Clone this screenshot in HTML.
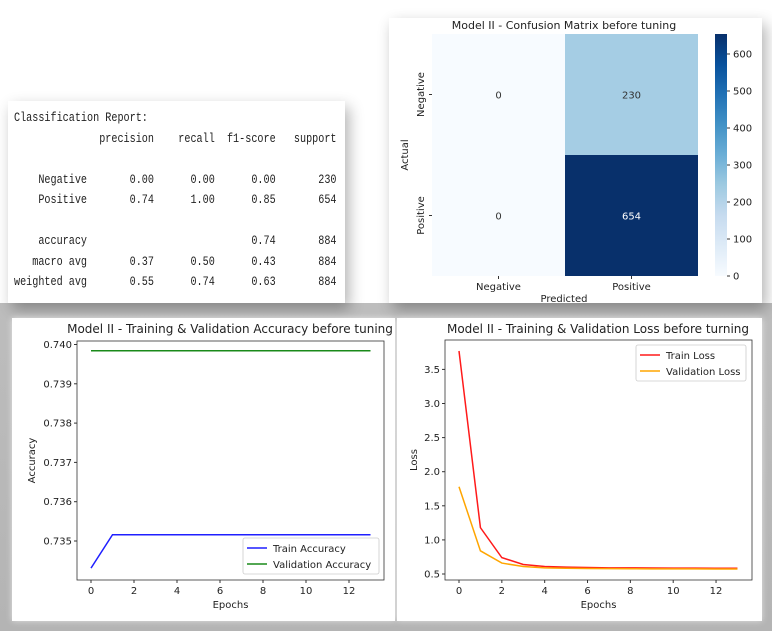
<!DOCTYPE html>
<html><head><meta charset="utf-8"><style>
html,body{margin:0;padding:0;width:772px;height:631px;overflow:hidden;background:#fff;font-family:"DejaVu Sans","Liberation Sans",sans-serif}
.panel{position:absolute;background:#fff}
#report pre{position:absolute;left:6px;top:7px;margin:0;font-family:"Liberation Mono",monospace;font-size:13px;line-height:20.5px;color:#222;transform:scaleX(0.78);transform-origin:0 0}
</style></head><body>
<div style="position:absolute;left:0;top:303px;width:772px;height:328px;background:linear-gradient(#bdbdbd,#b4b4b4)"></div>
<div id="report" class="panel" style="left:8px;top:101px;width:337px;height:202px;box-shadow:4px 6px 14px rgba(0,0,0,0.3)">
<pre>Classification Report:
              precision    recall  f1-score   support

    Negative       0.00      0.00      0.00       230
    Positive       0.74      1.00      0.85       654

    accuracy                           0.74       884
   macro avg       0.37      0.50      0.43       884
weighted avg       0.55      0.74      0.63       884</pre>
</div>
<div class="panel" style="left:389px;top:18px;width:373px;height:285px;box-shadow:4px 6px 14px rgba(0,0,0,0.3)"></div>
<div class="panel" style="left:12px;top:318px;width:383px;height:303px;box-shadow:0 0 6px rgba(255,255,255,0.6)"></div>
<div class="panel" style="left:397px;top:318px;width:365px;height:303px;box-shadow:0 0 6px rgba(255,255,255,0.6)"></div>
<svg id="svg" width="772" height="631" style="position:absolute;left:0;top:0" font-family="DejaVu Sans, Liberation Sans, sans-serif" font-size="10" fill="#222"></svg>
<script>
// confusion matrix data
const cmRows=["Negative","Positive"];
const cmCols=["Negative","Positive"];
const cmValues=[[0,230],[0,654]];
const cbTicks=[0,100,200,300,400,500,600];
// accuracy data
const epochs=[0,1,2,3,4,5,6,7,8,9,10,11,12,13];
const trainAcc=[0.73431,0.73516,0.73516,0.73516,0.73516,0.73516,0.73516,0.73516,0.73516,0.73516,0.73516,0.73516,0.73516,0.73516];
const valAcc=[0.73984,0.73984,0.73984,0.73984,0.73984,0.73984,0.73984,0.73984,0.73984,0.73984,0.73984,0.73984,0.73984,0.73984];
const accTicks=[0.735,0.736,0.737,0.738,0.739,0.740];
const xTicks=[0,2,4,6,8,10,12];
// loss data
const trainLoss=[3.77,1.18,0.74,0.64,0.61,0.60,0.595,0.59,0.59,0.588,0.587,0.586,0.585,0.585];
const valLoss=[1.78,0.84,0.66,0.61,0.59,0.585,0.58,0.578,0.577,0.576,0.575,0.575,0.574,0.574];
const lossTicks=[0.5,1.0,1.5,2.0,2.5,3.0,3.5];

const NS="http://www.w3.org/2000/svg";
const svg=document.getElementById('svg');
function el(tag,attrs,parent,text){const e=document.createElementNS(NS,tag);for(const k in attrs)e.setAttribute(k,attrs[k]);if(text!==undefined)e.textContent=text;(parent||svg).appendChild(e);return e;}
const blues=["#f7fbff","#deebf7","#c6dbef","#9ecae1","#6baed6","#4292c6","#2171b5","#08519c","#08306b"];
function hex(h){return [1,3,5].map(i=>parseInt(h.substr(i,2),16));}
function cmap(t){t=Math.max(0,Math.min(1,t));const p=t*(blues.length-1);const i=Math.min(Math.floor(p),blues.length-2);const f=p-i;const a=hex(blues[i]),b=hex(blues[i+1]);return "rgb("+a.map((v,k)=>Math.round(v+(b[k]-v)*f)).join(",")+")";}

// ---- confusion matrix ----
const vmax=654;
const hx0=432,hx1=698,hy0=34,hy1=276;
const cw=(hx1-hx0)/cmCols.length,ch=(hy1-hy0)/cmRows.length;
let t=el('text',{x:564,y:29,'text-anchor':'middle','font-size':11});t.textContent="Model II - Confusion Matrix before tuning";

cmValues.forEach((row,r)=>row.forEach((v,c)=>{
 const rc=el('rect',{x:hx0+c*cw,y:hy0+r*ch,width:cw,height:ch,fill:cmap(v/vmax)});
 
 
 const tx=el('text',{x:hx0+(c+.5)*cw,y:hy0+(r+.5)*ch+4,'text-anchor':'middle','font-size':10,fill:v/vmax>0.5?'#fff':'#333'},null,String(v));
 
 
}));
cmCols.forEach((c,i)=>{const x=hx0+(i+.5)*cw;el('line',{x1:x,x2:x,y1:hy1,y2:hy1+3,stroke:'#333'});
 const tx=el('text',{x:x,y:hy1+14,'text-anchor':'middle'},null,c);
 });
cmRows.forEach((c,i)=>{const y=hy0+(i+.5)*ch;el('line',{x1:hx0-3,x2:hx0,y1:y,y2:y,stroke:'#333'});
 const tx=el('text',{transform:`translate(${hx0-8},${y}) rotate(-90)`,'text-anchor':'middle'},null,c);
 });
t=el('text',{x:564,y:302,'text-anchor':'middle'},null,"Predicted");
t=el('text',{transform:'translate(408,155) rotate(-90)','text-anchor':'middle'},null,"Actual");
// colorbar
const cbx=715,cbw=12;
const defs=el('defs',{});const lg=el('linearGradient',{id:'cbg',x1:0,y1:1,x2:0,y2:0},defs);
blues.forEach((b,i)=>el('stop',{offset:i/(blues.length-1),'stop-color':b},lg));
t=el('rect',{x:cbx,y:hy0,width:cbw,height:hy1-hy0,fill:'url(#cbg)'});
cbTicks.forEach(v=>{const y=hy1-(v/vmax)*(hy1-hy0);el('line',{x1:cbx+cbw,x2:cbx+cbw+3,y1:y,y2:y,stroke:'#333'});
 const tx=el('text',{x:cbx+cbw+6,y:y+3.5},null,String(v));});

// ---- line chart helper ----
function lineChart(o){
 const sx=v=>o.xa+(v-0)*o.xs; const sy=v=>o.ya-(v-o.yv)*o.ys;
 let tt=el('text',{x:o.tx,y:o.ty,'text-anchor':'middle','font-size':12},null,o.title);
 
 o.yTicks.forEach(v=>{const y=sy(v);el('line',{x1:o.L-3,x2:o.L,y1:y,y2:y,stroke:'#333'});
  const tx=el('text',{x:o.L-5,y:y+3.5,'text-anchor':'end'},null,o.fmt(v));});
 xTicks.forEach(v=>{const x=sx(v);el('line',{x1:x,x2:x,y1:o.B,y2:o.B+3,stroke:'#333'});
  const tx=el('text',{x:x,y:o.B+14,'text-anchor':'middle'},null,String(v));});
 o.series.forEach(s=>{const p=el('polyline',{points:epochs.map((e,i)=>sx(e)+','+sy(s.data[i])).join(' '),fill:'none',stroke:s.color,'stroke-width':1.5});
  });
 const fr=el('rect',{x:o.L,y:o.T,width:o.R-o.L,height:o.B-o.T,fill:'none',stroke:'#333','stroke-width':0.8});
 
 tt=el('text',{x:(o.L+o.R)/2,y:o.B+28,'text-anchor':'middle'},null,"Epochs");
 tt=el('text',{transform:`translate(${o.ylx},${(o.T+o.B)/2}) rotate(-90)`,'text-anchor':'middle'},null,o.ylabel);
 const lgd=el('g',{});
 el('rect',{x:o.lx,y:o.ly,width:o.lw,height:36,rx:2,fill:'#fff',stroke:'#ccc','stroke-width':0.8},lgd);
 o.series.forEach((s,i)=>{const y=o.ly+10+i*16;el('line',{x1:o.lx+4,x2:o.lx+24,y1:y,y2:y,stroke:s.color,'stroke-width':1.5},lgd);
  const tx=el('text',{x:o.lx+30,y:y+4},lgd,s.label);});
}
lineChart({id:'accuracy',title:"Model II - Training & Validation Accuracy before tuning",tx:230,ty:333,
 L:77,R:384,T:341,B:580,xa:91,xs:21.5,ya:541,yv:0.735,ys:39300,yTicks:accTicks,fmt:v=>v.toFixed(3),ylx:35,ylabel:"Accuracy",
 series:[{name:'train-accuracy-line',label:'Train Accuracy',color:'#1f1fff',data:trainAcc},{name:'validation-accuracy-line',label:'Validation Accuracy',color:'#1a8a1a',data:valAcc}],
 lx:243,ly:538,lw:136});
lineChart({id:'loss',title:"Model II - Training & Validation Loss before turning",tx:598,ty:333,
 L:445,R:752,T:340,B:580,xa:459,xs:21.42,ya:574,yv:0.5,ys:68.2,yTicks:lossTicks,fmt:v=>v.toFixed(1),ylx:417,ylabel:"Loss",
 series:[{name:'train-loss-line',label:'Train Loss',color:'#ff1a1a',data:trainLoss},{name:'validation-loss-line',label:'Validation Loss',color:'#ffa500',data:valLoss}],
 lx:636,ly:345,lw:110});
</script>
</body></html>
